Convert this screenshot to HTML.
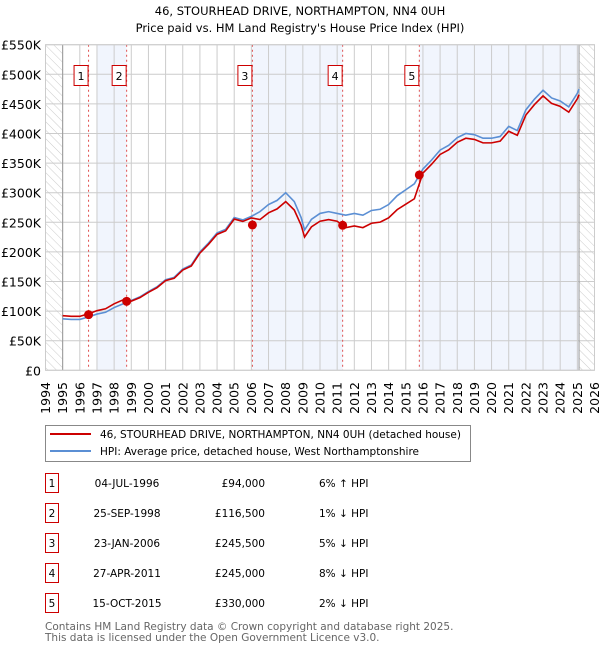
<!DOCTYPE html>
<html><head><meta charset="utf-8"><style>
body{margin:0;background:#fff;font-family:"DejaVu Sans","Liberation Sans",sans-serif;}
svg{display:block}
</style></head><body>
<svg id="c" width="600" height="650" xmlns="http://www.w3.org/2000/svg" font-family="DejaVu Sans, Liberation Sans, sans-serif">
<defs><pattern id="hatch" width="6" height="6" patternUnits="userSpaceOnUse" patternTransform="rotate(-45)"><line x1="0" y1="0" x2="0" y2="6" stroke="#ccc" stroke-width="1"/></pattern></defs>
<text x="300" y="15" text-anchor="middle" font-size="11.5">46, STOURHEAD DRIVE, NORTHAMPTON, NN4 0UH</text>
<text x="300" y="32" text-anchor="middle" font-size="11.5">Price paid vs. HM Land Registry's House Price Index (HPI)</text>
<g id="plot"></g>
<g>
<rect x="45.5" y="425.5" width="425" height="36" fill="#fff" stroke="#888"/>
<line x1="50" y1="434" x2="91" y2="434" stroke="#cc0000" stroke-width="2"/>
<text x="100" y="438" font-size="10.5">46, STOURHEAD DRIVE, NORTHAMPTON, NN4 0UH (detached house)</text>
<line x1="50" y1="451" x2="91" y2="451" stroke="#5b8fd4" stroke-width="2"/>
<text x="100" y="455" font-size="10.5">HPI: Average price, detached house, West Northamptonshire</text>
</g>
<g id="table" font-size="10.5"></g>
<text x="45" y="630" font-size="10.5" fill="#666">Contains HM Land Registry data © Crown copyright and database right 2025.</text>
<text x="45" y="641" font-size="10.5" fill="#666">This data is licensed under the Open Government Licence v3.0.</text>
</svg>
<script>
const years=[1994,1995,1996,1997,1998,1999,2000,2001,2002,2003,2004,2005,2006,2007,2008,2009,2010,2011,2012,2013,2014,2015,2016,2017,2018,2019,2020,2021,2022,2023,2024,2025,2026];
const yTicks=[0,50,100,150,200,250,300,350,400,450,500,550];
const yTickLabels=["£0","£50K","£100K","£150K","£200K","£250K","£300K","£350K","£400K","£450K","£500K","£550K"];
const hpiT=[1995.0,1995.5,1996.0,1996.5,1997.0,1997.5,1998.0,1998.5,1999.0,1999.5,2000.0,2000.5,2001.0,2001.5,2002.0,2002.5,2003.0,2003.5,2004.0,2004.5,2005.0,2005.5,2006.0,2006.5,2007.0,2007.5,2008.0,2008.5,2008.9,2009.1,2009.5,2010.0,2010.5,2011.0,2011.5,2012.0,2012.5,2013.0,2013.5,2014.0,2014.5,2015.0,2015.5,2016.0,2016.5,2017.0,2017.5,2018.0,2018.5,2019.0,2019.5,2020.0,2020.5,2021.0,2021.5,2022.0,2022.5,2023.0,2023.5,2024.0,2024.5,2025.0,2025.1];
const hpiV=[87,86,86,90,95,98,106,112,118,124,133,141,153,157,171,178,200,215,232,238,258,254,260,268,280,287,300,285,258,237,255,265,268,265,262,265,262,270,272,280,295,305,315,340,355,372,380,393,400,398,392,392,395,412,405,440,458,473,460,455,445,468,475];
const saleT=[1996.51,1998.73,2006.06,2011.32,2015.79];
const saleV=[94,116.5,245.5,245,330];
const saleFactor=[1.06,0.99,0.95,0.92,0.98];
const saleDates=["04-JUL-1996","25-SEP-1998","23-JAN-2006","27-APR-2011","15-OCT-2015"];
const salePrices=["£94,000","£116,500","£245,500","£245,000","£330,000"];
const salePct=["6% ↑ HPI","1% ↓ HPI","5% ↓ HPI","8% ↓ HPI","2% ↓ HPI"];
const NS="http://www.w3.org/2000/svg";
const X0=45.5,X1=594.5,Y0=370.3,Y1=44.7;
const xs=t=>X0+(t-1994)/(2026-1994)*(X1-X0);
const ys=v=>Y0-v/550*(Y0-Y1);
const plot=document.getElementById('plot');
function mk(tag,attrs,parent){const e=document.createElementNS(NS,tag);for(const k in attrs)e.setAttribute(k,attrs[k]);(parent||plot).appendChild(e);return e;}
const bands=[[1997.0,saleT[1]],[saleT[2],saleT[3]],[saleT[4],2025.1]];
bands.forEach(b=>{const r=mk('rect',{x:xs(b[0]),y:Y1,width:xs(b[1])-xs(b[0]),height:Y0-Y1,fill:'#eef3fc',opacity:0.8});

});
let h1=mk('rect',{x:X0,y:Y1,width:xs(1995)-X0,height:Y0-Y1,fill:'url(#hatch)'});


let h2=mk('rect',{x:xs(2025.1),y:Y1,width:X1-xs(2025.1),height:Y0-Y1,fill:'url(#hatch)'});


years.forEach((y,i)=>{const l=mk('line',{x1:xs(y),x2:xs(y),y1:Y1,y2:Y0,stroke:'#ccc','stroke-width':1});


const t=mk('text',{x:0,y:0,'font-size':12.5,'text-anchor':'end',transform:`translate(${xs(y)+4.5},382) rotate(-90)`});
t.textContent=y;

});
yTicks.forEach((v,i)=>{const l=mk('line',{x1:X0,x2:X1,y1:ys(v),y2:ys(v),stroke:'#ccc','stroke-width':1});


const t=mk('text',{x:41,y:ys(v)+5,'font-size':12.5,'text-anchor':'end'});
t.textContent=yTickLabels[i];

});
let ax=mk('line',{x1:xs(1995),x2:xs(1995),y1:Y1,y2:Y0,stroke:'#999'});


let ax2=mk('line',{x1:xs(2025.1),x2:xs(2025.1),y1:Y1,y2:Y0,stroke:'#999'});


saleT.forEach((t,i)=>{const l=mk('line',{x1:xs(t),x2:xs(t),y1:Y1,y2:Y0,stroke:'#e05050','stroke-width':1,'stroke-dasharray':'2,3'});


const r=mk('rect',{x:xs(t)-14.5,y:65.5,width:14,height:20,fill:'#fff',stroke:'#cc0000'});


const tx=mk('text',{x:xs(t)-7.5,y:80,'font-size':11,'text-anchor':'middle'});
tx.textContent=i+1;

});
const hp=mk('polyline',{points:hpiT.map((t,i)=>xs(t)+','+ys(hpiV[i])).join(' '),fill:'none',stroke:'#5b8fd4','stroke-width':1.6});


function seg(t){let k=0;for(let i=0;i<saleT.length;i++)if(t>=saleT[i])k=i;return k;}
const rp=mk('polyline',{points:hpiT.map((t,i)=>xs(t)+','+ys(hpiV[i]*saleFactor[seg(t)])).join(' '),fill:'none',stroke:'#cc0000','stroke-width':1.6});


saleT.forEach((t,i)=>{const c=mk('circle',{cx:xs(t),cy:ys(saleV[i]),r:4.5,fill:'#cc0000'});

});
let bd=mk('rect',{x:X0,y:Y1,width:X1-X0,height:Y0-Y1,fill:'none',stroke:'#ccc'});


const tb=document.getElementById('table');
saleT.forEach((t,i)=>{const cy=483+i*30;
const r=mk('rect',{x:45.5,y:cy-9.5,width:13,height:19,fill:'#fff',stroke:'#cc0000'},tb);


const n=mk('text',{x:52,y:cy+4,'text-anchor':'middle'},tb);n.textContent=i+1;


const d=mk('text',{x:127,y:cy+4,'text-anchor':'middle'},tb);d.textContent=saleDates[i];


const p=mk('text',{x:265,y:cy+4,'text-anchor':'end'},tb);p.textContent=salePrices[i];


const q=mk('text',{x:319,y:cy+4},tb);q.textContent=salePct[i];

});
</script>
</body></html>
